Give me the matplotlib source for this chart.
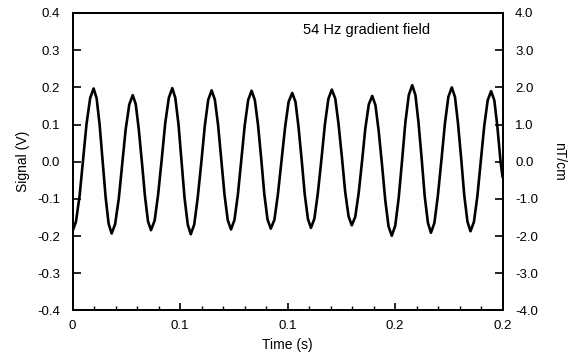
import matplotlib
matplotlib.use("Agg")
import matplotlib.pyplot as plt
from matplotlib.ticker import MultipleLocator, FixedLocator

plt.rcParams['font.family'] = ['Liberation Sans', 'DejaVu Sans']

# signal (seconds, volts): extrema plus points in between
time_s = [
    0.0000, 0.0016, 0.0033, 0.0049, 0.0065, 0.0082,
    0.0098, 0.0112, 0.0126, 0.0140, 0.0154, 0.0168,
    0.0182, 0.0198, 0.0215, 0.0231, 0.0247, 0.0264,
    0.0280, 0.0294, 0.0308, 0.0323, 0.0337, 0.0351,
    0.0365, 0.0382, 0.0398, 0.0415, 0.0431, 0.0448,
    0.0464, 0.0478, 0.0493, 0.0507, 0.0521, 0.0536,
    0.0550, 0.0566, 0.0582, 0.0599, 0.0615, 0.0631,
    0.0647, 0.0662, 0.0677, 0.0692, 0.0707, 0.0722,
    0.0737, 0.0753, 0.0769, 0.0785, 0.0801, 0.0817,
    0.0833, 0.0848, 0.0863, 0.0878, 0.0892, 0.0907,
    0.0922, 0.0939, 0.0955, 0.0972, 0.0989, 0.1005,
    0.1022, 0.1037, 0.1051, 0.1066, 0.1080, 0.1095,
    0.1109, 0.1125, 0.1141, 0.1158, 0.1174, 0.1190,
    0.1206, 0.1222, 0.1237, 0.1253, 0.1268, 0.1284,
    0.1299, 0.1315, 0.1331, 0.1347, 0.1362, 0.1378,
    0.1394, 0.1409, 0.1424, 0.1440, 0.1455, 0.1470,
    0.1485, 0.1501, 0.1517, 0.1533, 0.1548, 0.1564,
    0.1580, 0.1595, 0.1609, 0.1624, 0.1638, 0.1653,
    0.1667, 0.1683, 0.1699, 0.1716, 0.1732, 0.1748,
    0.1764, 0.1779, 0.1793, 0.1808, 0.1822, 0.1837,
    0.1851, 0.1867, 0.1883, 0.1899, 0.1915, 0.1931,
    0.1947, 0.1962, 0.1976, 0.1991, 0.2000,
]
signal_v = [
    -0.187, -0.161, -0.091, 0.005, 0.101, 0.171,
    0.197, 0.171, 0.100, 0.002, -0.096, -0.167,
    -0.193, -0.168, -0.100, -0.007, 0.086, 0.154,
    0.179, 0.155, 0.088, -0.003, -0.093, -0.160,
    -0.184, -0.158, -0.089, 0.007, 0.103, 0.172,
    0.198, 0.172, 0.100, 0.002, -0.097, -0.169,
    -0.195, -0.169, -0.098, -0.002, 0.095, 0.166,
    0.192, 0.167, 0.099, 0.005, -0.089, -0.157,
    -0.182, -0.157, -0.089, 0.005, 0.098, 0.166,
    0.191, 0.166, 0.098, 0.006, -0.087, -0.155,
    -0.180, -0.156, -0.089, 0.003, 0.094, 0.161,
    0.185, 0.161, 0.094, 0.004, -0.087, -0.154,
    -0.178, -0.153, -0.085, 0.008, 0.101, 0.169,
    0.194, 0.170, 0.103, 0.012, -0.080, -0.147,
    -0.171, -0.148, -0.084, 0.003, 0.090, 0.154,
    0.177, 0.152, 0.083, -0.011, -0.105, -0.174,
    -0.199, -0.172, -0.098, 0.004, 0.105, 0.179,
    0.206, 0.179, 0.107, 0.008, -0.092, -0.164,
    -0.191, -0.165, -0.093, 0.005, 0.102, 0.174,
    0.200, 0.174, 0.103, 0.007, -0.090, -0.161,
    -0.187, -0.162, -0.093, 0.002, 0.096, 0.165,
    0.190, 0.165, 0.095, 0.000, -0.040,
]

x_ticks = [0.0, 0.05, 0.1, 0.15, 0.2]
x_tick_labels = ["0", "0.1", "0.1", "0.2", "0.2"]
left_ticks = [-0.4, -0.3, -0.2, -0.1, 0.0, 0.1, 0.2, 0.3, 0.4]
right_ticks = [-4.0, -3.0, -2.0, -1.0, 0.0, 1.0, 2.0, 3.0, 4.0]

fig = plt.figure(figsize=(5.77, 3.62), dpi=100)
ax = fig.add_axes([0.1257, 0.1423, 0.7452, 0.8218])

ax.plot(time_s, signal_v, color='black', linewidth=1.9)
ax.set_xlim(0, 0.2)
ax.set_ylim(-0.4, 0.4)

ax.xaxis.set_major_locator(FixedLocator(x_ticks))
ax.set_xticklabels(x_tick_labels)
ax.xaxis.set_minor_locator(MultipleLocator(0.01))
ax.set_yticks(left_ticks)
ax.set_yticklabels([f"{v:.1f}" for v in left_ticks])

ax.tick_params(axis='x', which='major', direction='in', length=5, width=1.2,
               labelsize=9.5, pad=7, top=False)
ax.tick_params(axis='x', which='minor', direction='in', length=3, width=1.0,
               top=False)
ax.tick_params(axis='y', which='major', direction='in', length=6, width=1.2,
               labelsize=9.5, pad=9, right=False)

for sp in ax.spines.values():
    sp.set_linewidth(1.4)

ax.set_xlabel("Time (s)", fontsize=10, labelpad=4)
ax.set_ylabel("Signal (V)", fontsize=10, labelpad=5)

ax2 = ax.twinx()
ax2.set_ylim(-4.0, 4.0)
ax2.set_yticks(right_ticks)
ax2.set_yticklabels([f"{v:.1f}" for v in right_ticks])
ax2.tick_params(axis='y', direction='in', length=6, width=1.2, labelsize=9.5, pad=9)
ax2.set_ylabel("nT/cm", fontsize=10, rotation=270, labelpad=20)
for sp in ax2.spines.values():
    sp.set_linewidth(1.4)

ax.text(0.536, 0.943, "54 Hz gradient field", transform=ax.transAxes,
        fontsize=10.5, ha='left', va='center')

fig.savefig("out.png", dpi=100)
